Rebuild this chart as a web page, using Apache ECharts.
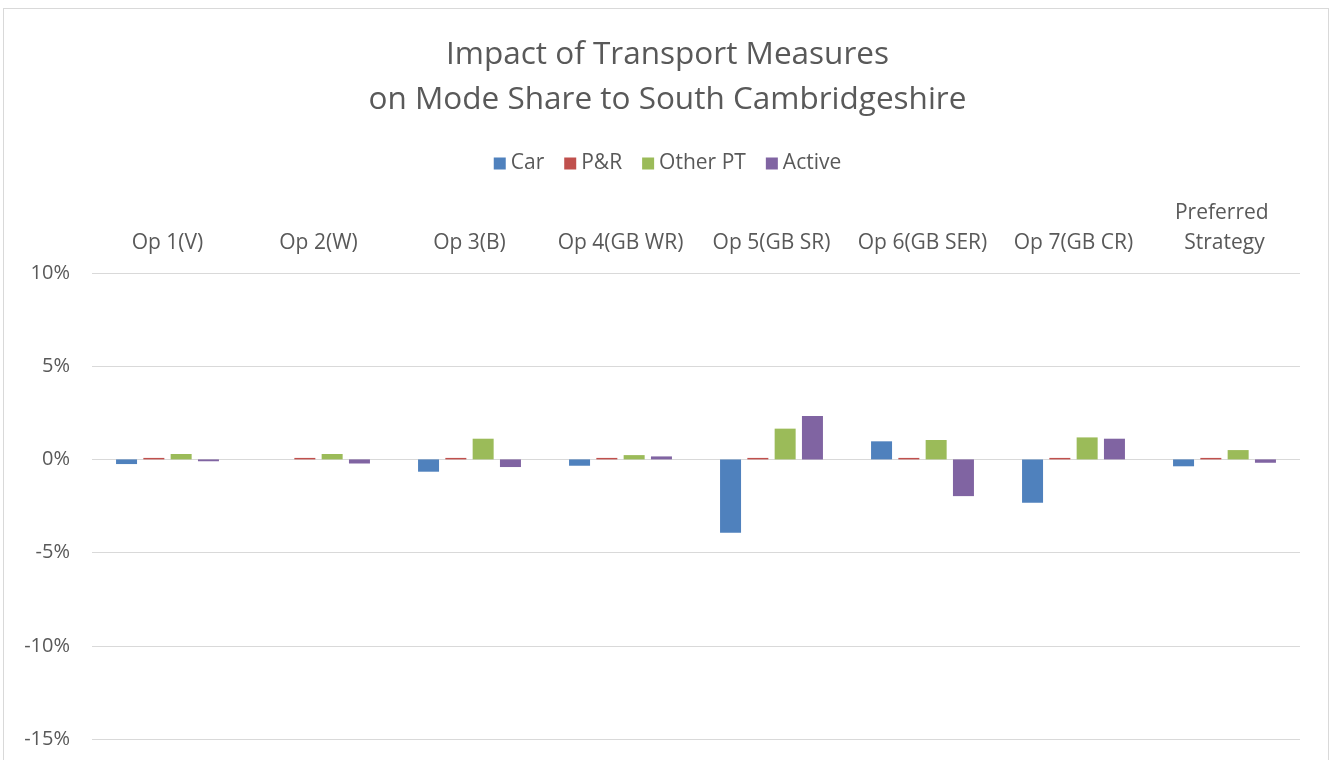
<!DOCTYPE html>
<html>
<head>
<meta charset="utf-8">
<style>
  html, body { margin: 0; padding: 0; background: #ffffff; }
  #frame { position: absolute; left: 3px; top: 8px; width: 1326px; height: 760px; border: 1px solid #d9d9d9; box-sizing: border-box; }
  #chart { position: absolute; left: 0; top: 0; width: 1335px; height: 760px; }
</style>
<script src="https://cdn.jsdelivr.net/npm/echarts@6/dist/echarts.min.js"></script>
</head>
<body>
<div id="frame"></div>
<div id="chart"></div>
<script>
// Scenario options along the category axis
const categories = ['Op 1(V)', 'Op 2(W)', 'Op 3(B)', 'Op 4(GB WR)', 'Op 5(GB SR)', 'Op 6(GB SER)', 'Op 7(GB CR)', 'Preferred Strategy'];

// Change in mode share, percentage points
const carValues      = [-0.25, 0.0, -0.66, -0.34, -3.94, 0.97, -2.33, -0.37];
const parkRideValues = [0.08, 0.08, 0.08, 0.08, 0.08, 0.08, 0.08, 0.08];
const otherPTValues  = [0.29, 0.29, 1.11, 0.23, 1.65, 1.04, 1.18, 0.50];
const activeValues   = [-0.10, -0.22, -0.41, 0.16, 2.33, -1.97, 1.11, -0.18];

const seriesNames = ['Car', 'P&R', 'Other PT', 'Active'];
const seriesColors = ['#4f81bd', '#c0504d', '#9bbb59', '#8064a2'];

const yTicks = { min: -15, max: 10, interval: 5 };

const textColor = '#595959';
const fontFamily = '"Open Sans", sans-serif';

const chart = echarts.init(document.getElementById('chart'));

const seriesData = [carValues, parkRideValues, otherPTValues, activeValues];

chart.setOption({
  backgroundColor: 'transparent',
  textStyle: { fontFamily: fontFamily },
  title: {
    text: 'Impact of Transport Measures\non Mode Share to South Cambridgeshire',
    left: 'center',
    top: 28,
    textStyle: {
      fontFamily: fontFamily,
      fontSize: 31.5,
      fontWeight: 'normal',
      color: textColor,
      lineHeight: 45
    }
  },
  legend: {
    top: 148,
    left: 'center',
    itemWidth: 12,
    itemHeight: 12,
    itemGap: 20,
    icon: 'rect',
    textStyle: { fontFamily: fontFamily, fontSize: 21, color: textColor },
    data: seriesNames
  },
  grid: { left: 92, right: 35, top: 273, bottom: 21, containLabel: false },
  xAxis: {
    type: 'category',
    position: 'top',
    data: categories,
    axisLine: { show: false },
    axisTick: { show: false },
    axisLabel: {
      interval: 0,
      margin: 15,
      fontSize: 21,
      color: textColor,
      fontFamily: fontFamily,
      width: 145,
      overflow: 'break',
      lineHeight: 30
    }
  },
  yAxis: {
    type: 'value',
    min: yTicks.min,
    max: yTicks.max,
    interval: yTicks.interval,
    axisLine: { show: false },
    axisTick: { show: false },
    splitLine: { lineStyle: { color: '#d9d9d9', width: 1 } },
    axisLabel: {
      margin: 22,
      fontSize: 20,
      color: textColor,
      fontFamily: fontFamily,
      formatter: v => v + '%'
    }
  },
  series: seriesNames.map((name, i) => ({
    name: name,
    type: 'bar',
    data: seriesData[i],
    barWidth: 21,
    barGap: '30%',
    itemStyle: { color: seriesColors[i] },
    emphasis: { disabled: true }
  })),
  animation: false
});
</script>
</body>
</html>
